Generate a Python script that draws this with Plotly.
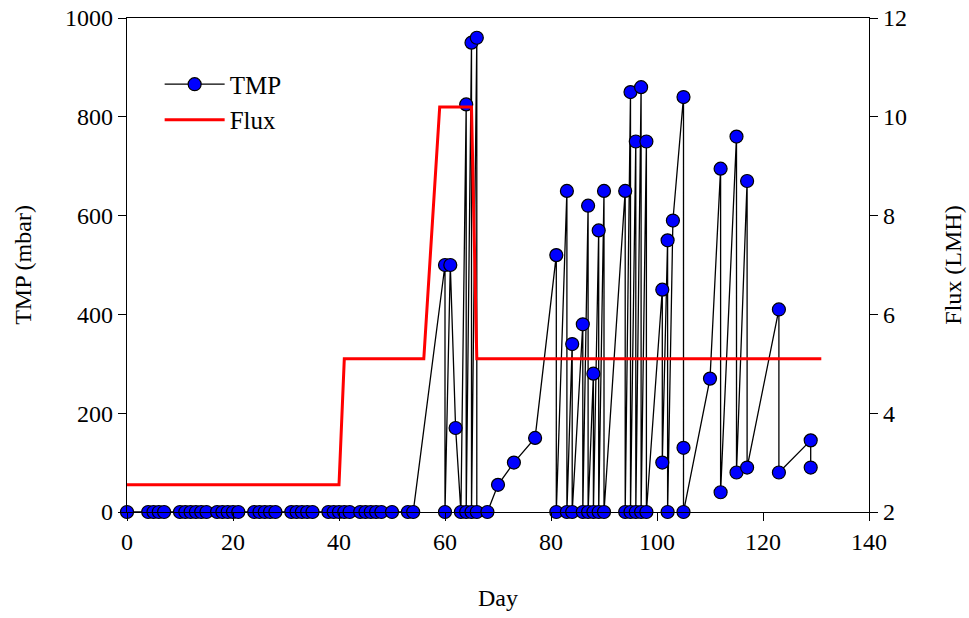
import plotly.graph_objects as go

# TMP series (connection order as in the reference)
tmp_day = [0, 4, 5, 6, 7, 10, 11, 12, 13, 14, 15, 17, 18, 19, 20, 21,
           24, 25, 26, 27, 28, 31, 32, 33, 34, 35, 38, 39, 40, 41, 42,
           44, 45, 46, 47, 48, 50, 53, 54, 60, 60, 61, 62, 63, 64, 64,
           65, 65, 66, 66, 68, 70, 73, 77, 81, 81, 83, 83, 84, 84, 86, 86,
           87, 87, 88, 88, 89, 89, 90, 90, 94, 94, 95, 95, 96, 96, 97, 97,
           98, 98, 101, 101, 102, 102, 103, 105, 105, 105, 110, 112, 112,
           115, 115, 117, 117, 123, 123, 129, 129]
tmp_val = [0, 0, 0, 0, 0, 0, 0, 0, 0, 0, 0, 0, 0, 0, 0, 0,
           0, 0, 0, 0, 0, 0, 0, 0, 0, 0, 0, 0, 0, 0, 0,
           0, 0, 0, 0, 0, 0, 0, 0, 500, 0, 500, 170, 0, 825, 0,
           950, 0, 960, 0, 0, 55, 100, 150, 520, 0, 650, 0, 340, 0, 380, 0,
           620, 0, 280, 0, 570, 0, 650, 0, 650, 0, 850, 0, 750, 0, 860, 0,
           750, 0, 450, 100, 550, 0, 590, 840, 130, 0, 270, 695, 40,
           760, 80, 670, 90, 410, 80, 145, 90]

# Flux series
flux_day = [0, 40, 41, 56, 59, 65, 66, 131]
flux_val = [2.55, 2.55, 5.1, 5.1, 10.2, 10.2, 5.1, 5.1]

x_ticks = [0, 20, 40, 60, 80, 100, 120, 140]
y1_ticks = [0, 200, 400, 600, 800, 1000]
y2_ticks = [2, 4, 6, 8, 10, 12]

FONT = "Liberation Serif, Times New Roman, serif"
FS = 24

fig = go.Figure()
fig.add_trace(go.Scatter(
    x=tmp_day, y=tmp_val, name="TMP", mode="lines+markers",
    line=dict(color="black", width=1.3),
    marker=dict(color="#0000FF", size=13, line=dict(color="black", width=1.2)),
    cliponaxis=False,
))
fig.add_trace(go.Scatter(
    x=flux_day, y=flux_val, name="Flux", mode="lines", yaxis="y2",
    line=dict(color="#FF0000", width=3),
))

axis_common = dict(
    showgrid=False, zeroline=False, showline=True, linecolor="black",
    linewidth=1.3, ticks="outside", ticklen=8, tickcolor="black", tickwidth=1.3,
    tickfont=dict(family=FONT, size=FS, color="black"), automargin=False,
)

fig.update_layout(
    width=969, height=618,
    margin=dict(l=127, r=100, t=18, b=106),
    paper_bgcolor="white", plot_bgcolor="white",
    font=dict(family=FONT, size=FS, color="black"),
    showlegend=True,
    legend=dict(x=0.044, y=0.912, xanchor="left", yanchor="top",
                bgcolor="rgba(0,0,0,0)", font=dict(family=FONT, size=25),
                itemwidth=60, tracegroupgap=0),
    xaxis=dict(range=[0, 140], tickvals=x_ticks, mirror=True,
               title=dict(text="Day", font=dict(family=FONT, size=FS), standoff=35),
               **axis_common),
    yaxis=dict(range=[0, 1000], tickvals=y1_ticks,
               title=dict(text="TMP (mbar)", font=dict(family=FONT, size=FS), standoff=26),
               **axis_common),
    yaxis2=dict(range=[2, 12], tickvals=y2_ticks, overlaying="y", side="right",
                title=dict(text="Flux (LMH)", font=dict(family=FONT, size=FS), standoff=38),
                **axis_common),
)

fig.write_html("out.html")
